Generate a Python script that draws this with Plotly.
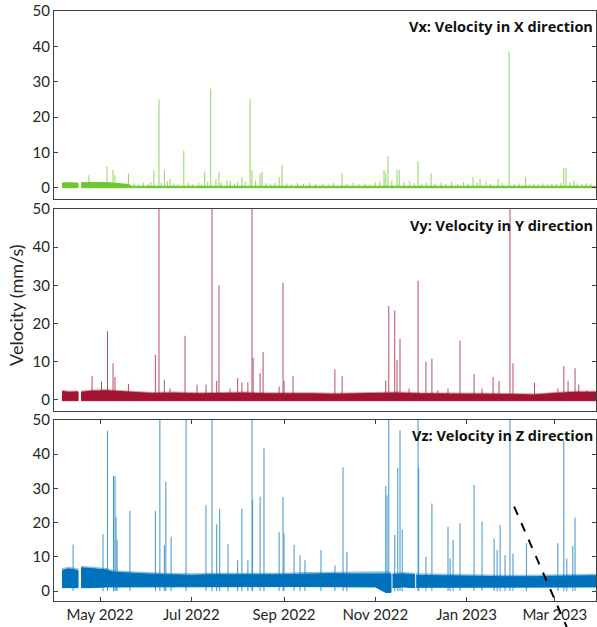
import plotly.graph_objects as go
from plotly.subplots import make_subplots

# ---------------- background (continuous) velocity level, per component ----------------
# None marks a recording gap
vx_band_t = ["2022-04-05 14:00", "2022-04-10", "2022-04-16 08:00", None,
             "2022-04-18 08:00", "2022-05-01", "2022-05-10", "2022-05-14",
             "2022-05-20", "2022-05-22", "2022-08-01", "2022-11-01", "2023-03-28 12:00"]
vx_band_hi = [1.3, 1.4, 1.3, None, 1.4, 1.5, 1.3, 1.2, 0.9, 0.4, 0.4, 0.4, 0.4]
vx_band_lo = [0.0, 0.0, 0.0, None, 0.0, 0.0, 0.0, 0.0, 0.0, 0.0, 0.0, 0.0, 0.0]

vy_band_t = ["2022-04-05 14:00", "2022-04-10", "2022-04-16 08:00", None,
             "2022-04-18 08:00", "2022-04-25", "2022-05-05", "2022-05-15", "2022-05-25",
             "2022-06-05", "2022-06-20", "2022-07-05", "2022-07-20", "2022-08-05",
             "2022-08-20", "2022-09-05", "2022-09-20", "2022-10-05", "2022-10-20",
             "2022-11-01", "2022-11-15", "2022-12-01", "2022-12-15", "2023-01-01",
             "2023-01-15", "2023-02-01", "2023-02-15", "2023-03-01", "2023-03-15",
             "2023-03-28 12:00"]
vy_band_hi = [2.2, 2.0, 2.1, None, 2.0, 2.3, 2.4, 2.2, 1.9, 1.7, 1.8, 1.6, 1.7, 1.8,
              1.6, 1.7, 1.6, 1.5, 1.6, 1.8, 1.8, 1.6, 1.6, 1.6, 1.5, 1.4, 1.3, 1.7, 2.0, 2.0]
vy_band_lo = [-0.2, -0.2, -0.2, None] + [-0.2] * 26

vz_band_t = ["2022-04-05 14:00", "2022-04-10", "2022-04-16 08:00", None,
             "2022-04-18 08:00", "2022-04-25", "2022-05-05", "2022-05-10", "2022-05-20",
             "2022-06-01", "2022-06-15", "2022-07-01", "2022-07-15", "2022-08-01",
             "2022-08-15", "2022-09-01", "2022-09-15", "2022-10-01", "2022-10-15",
             "2022-11-01", "2022-11-08", "2022-11-11 12:00", None,
             "2022-11-12 12:00", "2022-11-20", "2022-11-27 08:00", None,
             "2022-11-28 08:00", "2022-12-10", "2022-12-25", "2023-01-10", "2023-01-25",
             "2023-02-10", "2023-02-25", "2023-03-10", "2023-03-28 12:00"]
vz_band_hi = [6.0, 6.5, 6.0, None, 6.8, 6.5, 6.2, 5.5, 5.2, 5.0, 4.8, 4.6, 4.8, 4.7,
              4.8, 4.8, 5.0, 5.1, 5.0, 5.0, 5.2, 5.0, None, 4.8, 5.0, 4.8, None,
              4.6, 4.5, 4.3, 4.3, 4.2, 4.2, 4.3, 4.4, 4.5]
vz_band_lo = [1.0, 1.0, 1.0, None, 1.0, 1.0, 1.2, 1.2, 1.2, 1.2, 1.3, 1.3, 1.3, 1.3,
              1.3, 1.3, 1.3, 1.3, 1.3, 1.2, -0.4, -0.4, None, 1.0, 1.2, 1.0, None,
              1.1, 1.2, 1.2, 1.2, 1.2, 1.2, 1.2, 1.2, 1.2]

# ---------------- peak events (date, peak velocity in mm/s) ----------------
vx_peak_t = ["2022-04-23 14:00", "2022-05-05 17:00", "2022-05-09 17:00", "2022-05-11",
             "2022-05-20", "2022-06-06", "2022-06-09 10:00", "2022-06-13", "2022-06-16 20:00",
             "2022-06-26", "2022-07-10", "2022-07-14", "2022-07-17 12:00", "2022-07-19 12:00",
             "2022-07-24 20:00", "2022-08-03 20:00", "2022-08-09 08:00", "2022-08-10 14:00",
             "2022-08-16", "2022-08-17 08:00", "2022-08-28 17:00", "2022-08-30 17:00",
             "2022-10-09 20:00", "2022-11-06 20:00", "2022-11-08", "2022-11-09 12:00",
             "2022-11-15 12:00", "2022-11-17", "2022-11-29 14:00", "2022-12-08 08:00",
             "2023-01-05 08:00", "2023-01-10", "2023-01-22", "2023-01-29 10:00",
             "2023-02-09 10:00", "2023-03-07", "2023-03-08 12:00", "2023-03-13 20:00",
             # small background events
             "2022-05-24", "2022-05-27", "2022-05-30", "2022-06-02", "2022-06-04",
             "2022-06-11", "2022-06-15", "2022-06-19", "2022-06-22", "2022-06-29",
             "2022-07-02", "2022-07-06", "2022-07-08", "2022-07-12", "2022-07-21",
             "2022-07-27", "2022-07-30", "2022-08-01", "2022-08-06", "2022-08-13",
             "2022-08-20", "2022-08-23", "2022-08-26", "2022-09-03", "2022-09-06",
             "2022-09-10", "2022-09-14", "2022-09-18", "2022-09-22", "2022-09-27",
             "2022-10-01", "2022-10-04", "2022-10-13", "2022-10-17", "2022-10-21",
             "2022-10-25", "2022-10-28", "2022-11-01", "2022-11-04", "2022-11-12",
             "2022-11-20", "2022-11-24", "2022-11-27", "2022-12-02", "2022-12-05",
             "2022-12-11", "2022-12-15", "2022-12-18", "2022-12-22", "2022-12-26",
             "2022-12-30", "2023-01-02", "2023-01-08", "2023-01-14", "2023-01-17",
             "2023-01-25", "2023-02-02", "2023-02-05", "2023-02-12", "2023-02-15",
             "2023-02-18", "2023-02-21", "2023-02-24", "2023-02-27", "2023-03-02",
             "2023-03-05", "2023-03-11", "2023-03-16", "2023-03-19", "2023-03-22",
             "2023-03-25"]
vx_peak_v = [3.5, 6, 5, 3.5, 4, 5, 25, 5, 2.5, 10.5, 4.5, 28, 2.5, 4.5, 2, 3, 25, 5,
             4, 4.5, 3, 6.5, 4, 5, 4, 9, 5, 5, 7.5, 4, 3, 2.5, 2.5, 38.5, 3, 5.5, 5.5, 2,
             1.2, 0.9, 1.4, 1.1, 1.6, 1.3, 1.8, 1.2, 0.9, 1.5, 1.0, 1.3, 0.8, 1.6, 1.4,
             1.8, 1.2, 1.5, 1.7, 2.0, 1.3, 1.1, 1.5, 1.2, 0.9, 1.4, 1.1, 1.3, 1.0, 1.2,
             0.9, 1.3, 1.1, 1.4, 1.0, 1.2, 0.9, 1.5, 1.8, 2.0, 1.6, 1.9, 1.3, 1.2, 1.4,
             1.2, 1.5, 1.1, 1.7, 1.0, 1.5, 1.2, 1.4, 1.8, 1.1, 1.3, 1.0, 1.2, 0.9, 1.1,
             1.0, 1.2, 0.9, 1.1, 1.0, 1.3, 1.5, 1.2, 1.0, 1.3, 1.1]

vy_peak_t = ["2022-04-25 17:00", "2022-05-02", "2022-05-06", "2022-05-09 17:00",
             "2022-05-11", "2022-05-20", "2022-06-07", "2022-06-09 10:00", "2022-06-13",
             "2022-06-16 20:00", "2022-06-26 20:00", "2022-07-04 20:00", "2022-07-10 20:00",
             "2022-07-14 20:00", "2022-07-18", "2022-07-19 12:00", "2022-07-26 20:00",
             "2022-08-01", "2022-08-03 20:00", "2022-08-07 20:00", "2022-08-10 14:00",
             "2022-08-11 08:00", "2022-08-16", "2022-08-18", "2022-08-28 17:00",
             "2022-08-31 08:00", "2022-09-01", "2022-09-07", "2022-10-05", "2022-10-09 20:00",
             "2022-11-08", "2022-11-10", "2022-11-14", "2022-11-15 12:00", "2022-11-17 12:00",
             "2022-11-23 14:00", "2022-11-29 14:00", "2022-12-04 20:00", "2022-12-08 20:00",
             "2022-12-12 20:00", "2022-12-19 14:00", "2022-12-27 14:00", "2023-01-06",
             "2023-01-11 08:00", "2023-01-18 17:00", "2023-01-22 17:00", "2023-01-30",
             "2023-02-01", "2023-02-15 10:00", "2023-03-03", "2023-03-07", "2023-03-09 20:00",
             "2023-03-14 12:00", "2023-03-17", "2023-03-22 12:00"]
vy_peak_v = [6.3, 4.8, 18, 9.6, 6, 4.2, 11.8, 50, 5.3, 3, 16.8, 4, 4, 50, 5, 30, 3,
             5.7, 4.6, 4.6, 50, 11, 7, 12.5, 3.5, 30.7, 5, 6.3, 8, 6.3, 5, 24.6, 23.4,
             10.5, 16, 3, 31.2, 10, 10.8, 2.5, 3, 15.5, 6.8, 3, 6, 5, 50, 9.6, 4.5, 3,
             8.9, 5, 8.3, 4, 2.5]

vz_peak_t = ["2022-04-13", "2022-05-03", "2022-05-06", "2022-05-10", "2022-05-11",
             "2022-05-11 17:00", "2022-05-12 10:00", "2022-05-21", "2022-06-07",
             "2022-06-10", "2022-06-13", "2022-06-14", "2022-06-17 12:00", "2022-06-27 12:00",
             "2022-07-10 20:00", "2022-07-14 20:00", "2022-07-18", "2022-07-20",
             "2022-07-25 14:00", "2022-08-01", "2022-08-03 20:00", "2022-08-07 20:00",
             "2022-08-10 14:00", "2022-08-11", "2022-08-16", "2022-08-18 14:00",
             "2022-08-28 17:00", "2022-08-31 08:00", "2022-09-01", "2022-09-07 17:00",
             "2022-09-11 17:00", "2022-09-15", "2022-09-25 17:00", "2022-10-05",
             "2022-10-10 10:00", "2022-10-13", "2022-11-08", "2022-11-08 20:00",
             "2022-11-10", "2022-11-14", "2022-11-16", "2022-11-17 12:00", "2022-11-19",
             "2022-11-29 14:00", "2022-11-30", "2022-12-04 20:00", "2022-12-08 20:00",
             "2022-12-19 14:00", "2022-12-21", "2022-12-23", "2022-12-27 14:00",
             "2023-01-06", "2023-01-11 08:00", "2023-01-19 10:00", "2023-01-21 10:00",
             "2023-01-23 10:00", "2023-01-26 17:00", "2023-01-30", "2023-02-01",
             "2023-02-10", "2023-03-03", "2023-03-07", "2023-03-09", "2023-03-13",
             "2023-03-14 12:00"]
vz_peak_v = [13.6, 16.6, 46.8, 33.6, 33.6, 21.7, 15, 23.4, 23.4, 50, 13.4, 32, 15.9,
             50, 25.1, 50, 19.5, 24, 13.7, 9, 24, 9, 50, 26.7, 27.6, 41.7, 17.2, 27.5,
             16.8, 13.5, 10.5, 9, 12, 7.5, 36.2, 11.5, 30.7, 28, 50, 16.4, 35.9, 47, 18,
             50, 36, 10, 25.6, 18.8, 9.5, 14.9, 19.8, 31, 20.3, 15.4, 12, 19.3, 10.5, 50,
             11, 14, 14, 44, 9.5, 13.2, 21.5]

# ---------------- axis labelling ----------------
x_tick_vals = ["2022-05-01", "2022-07-01", "2022-09-01", "2022-11-01", "2023-01-01", "2023-03-01"]
x_tick_text = ["May 2022", "Jul 2022", "Sep 2022", "Nov 2022", "Jan 2023", "Mar 2023"]
y_tick_vals = [0, 10, 20, 30, 40, 50]
panel_titles = ["Vx: Velocity in X direction", "Vy: Velocity in Y direction",
                "Vz: Velocity in Z direction"]

GREEN = "#6cc72f"
RED = "#a2142f"
BLUE = "#0072bd"
AXIS = "#404040"
FONT = "Lato"
TITLE_FONT = "Open Sans"

fig = make_subplots(rows=3, cols=1, shared_xaxes=True)


def split_segments(t, lo, hi):
    segs, cur = [], []
    for a, b, c in zip(t, lo, hi):
        if a is None:
            if cur:
                segs.append(cur)
            cur = []
        else:
            cur.append((a, b, c))
    if cur:
        segs.append(cur)
    return segs


def add_band(t, lo, hi, color, row, fringe=0.0):
    for seg in split_segments(t, lo, hi):
        xs = [p[0] for p in seg] + [p[0] for p in seg[::-1]]
        ys = [p[2] for p in seg] + [p[1] for p in seg[::-1]]
        fig.add_trace(go.Scatter(x=xs, y=ys, mode="lines", fill="toself",
                                 fillcolor=color, line=dict(color=color, width=1),
                                 hoverinfo="skip", showlegend=False), row=row, col=1)
        if fringe:
            # soft upper edge of the dense noise floor
            fig.add_trace(go.Scatter(x=[p[0] for p in seg], y=[p[2] for p in seg],
                                     mode="lines", opacity=0.45,
                                     line=dict(color=color, width=fringe),
                                     hoverinfo="skip", showlegend=False), row=row, col=1)


def add_peaks(t, v, color, row):
    xs, ys = [], []
    for d, val in zip(t, v):
        xs += [d, d, None]
        ys += [0, val, None]
    fig.add_trace(go.Scatter(x=xs, y=ys, mode="lines", opacity=0.75,
                             line=dict(color=color, width=1),
                             hoverinfo="skip", showlegend=False), row=row, col=1)


add_peaks(vx_peak_t, vx_peak_v, GREEN, 1)
add_band(vx_band_t, vx_band_lo, vx_band_hi, GREEN, 1)
add_peaks(vy_peak_t, vy_peak_v, RED, 2)
add_band(vy_band_t, vy_band_lo, vy_band_hi, RED, 2, fringe=3)
add_peaks(vz_peak_t, vz_peak_v, BLUE, 3)
add_band(vz_band_t, vz_band_lo, vz_band_hi, BLUE, 3, fringe=4)

domains = [[0.6814, 1.0], [0.322, 0.6644], [0.0, 0.3068]]
yranges = [[-3.2, 50], [-2.9, 50], [-2.9, 50]]
for i in range(3):
    sfx = "" if i == 0 else str(i + 1)
    fig.layout["yaxis" + sfx].update(
        domain=domains[i], range=yranges[i], tickvals=y_tick_vals,
        ticks="inside", ticklen=4, tickcolor=AXIS, showline=True, linecolor=AXIS,
        linewidth=1, mirror="ticks", showgrid=False, zeroline=False,
        tickfont=dict(family=FONT, size=15, color="#262626"))
    last = i == 2
    fig.layout["xaxis" + sfx].update(
        range=["2022-03-31 06:00", "2023-03-28 12:00"], showline=True, linecolor=AXIS,
        linewidth=1, mirror="ticks" if last else True, showgrid=False, zeroline=False,
        ticks="inside" if last else "", ticklen=4, tickcolor=AXIS,
        tickvals=x_tick_vals, ticktext=x_tick_text, showticklabels=last,
        tickfont=dict(family=FONT, size=15, color="#262626"))

annotations = []
for title, yc in zip(panel_titles, [0.973, 0.637, 0.281]):
    annotations.append(dict(text="<b>" + title + "</b>", xref="paper", yref="paper",
                            x=0.998, y=yc, xanchor="right", yanchor="middle",
                            showarrow=False,
                            font=dict(family=TITLE_FONT, size=14.5, color="#111111")))
annotations.append(dict(text="Velocity (mm/s)", xref="paper", yref="paper",
                        x=-0.07, y=0.502, textangle=-90, showarrow=False,
                        xanchor="center", yanchor="middle",
                        font=dict(family=FONT, size=18, color="#262626")))

fig.update_layout(
    width=597, height=627,
    margin=dict(l=54, r=1, t=11, b=26),
    paper_bgcolor="white", plot_bgcolor="white",
    annotations=annotations,
    shapes=[dict(type="line", xref="paper", yref="paper", x0=0.849, y0=0.160,
                 x1=0.946, y1=-0.044, line=dict(color="black", width=2, dash="dash"))],
)

fig.write_html("out.html")
